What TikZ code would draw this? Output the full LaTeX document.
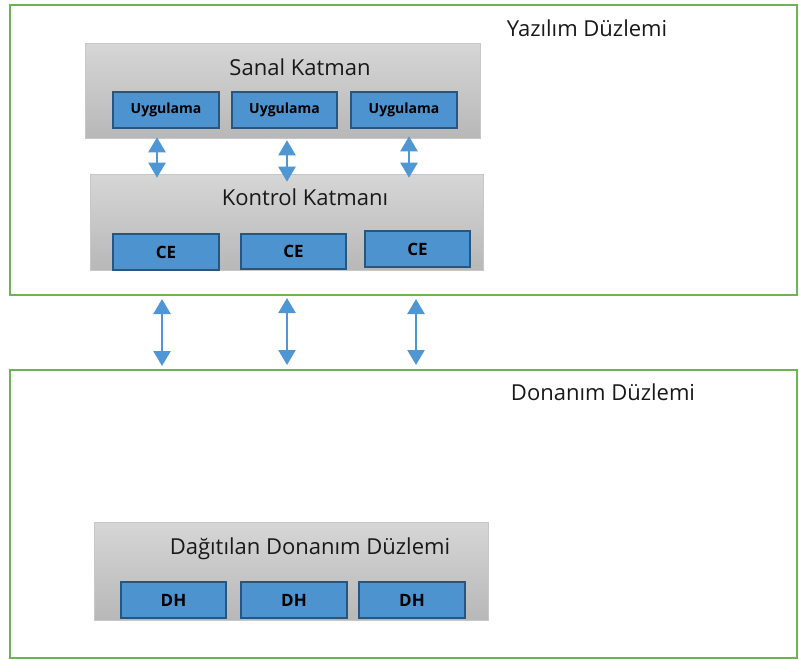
\documentclass[tikz,border=0pt]{standalone}
\usepackage{fontspec}
\setmainfont{Open Sans}
\usetikzlibrary{arrows.meta}
\definecolor{grn}{HTML}{6DB553}
\definecolor{blu}{HTML}{4D93CF}
\definecolor{bluedge}{HTML}{27567E}
\definecolor{arrc}{HTML}{4E96D4}
\tikzset{
  plane/.style={draw=grn, line width=2pt},
  layer/.style={top color=black!16, bottom color=black!28, draw=black!22, line width=0.6pt},
  unit/.style={fill=blu, draw=bluedge, line width=1.6pt, font=\bfseries\fontsize{14}{16}\selectfont, text=black},
  big/.style={font=\bfseries\fontsize{17}{19}\selectfont},
  title/.style={font=\fontsize{22}{26}\selectfont, text=black!90},
  arr/.style={draw=arrc, line width=2.4pt, {Triangle[width=17pt,length=15pt]}-{Triangle[width=17pt,length=15pt]}}
}
\begin{document}
\begin{tikzpicture}[x=1pt,y=-1pt]
\useasboundingbox (0,0) rectangle (799,659);
% planes
\node[plane, minimum width=787pt, minimum height=290pt, inner sep=0pt] (sw) at (403.5,150) {};
\node[plane, minimum width=787pt, minimum height=288pt, inner sep=0pt] (hw) at (403.5,514) {};
\node[title, anchor=base] (swt) at (587,36) {Yazılım Düzlemi};
\node[title, anchor=base] (hwt) at (603,400) {Donanım Düzlemi};
% Sanal Katman
\node[layer, minimum width=395pt, minimum height=95pt, inner sep=0pt] (sanal) at (282.5,90.5) {};
\node[title, anchor=base] (sanalt) at (300,75) {Sanal Katman};
\node[unit, minimum width=106pt, minimum height=36pt, inner sep=0pt] (u1) at (166,110) {Uygulama};
\node[unit, minimum width=105pt, minimum height=36pt, inner sep=0pt] (u2) at (284.5,110) {Uygulama};
\node[unit, minimum width=106pt, minimum height=36pt, inner sep=0pt] (u3) at (404,110) {Uygulama};
% Kontrol Katmani
\node[layer, minimum width=393pt, minimum height=96pt, inner sep=0pt] (kontrol) at (286.5,222) {};
\node[title, anchor=base] (kontrolt) at (305,205) {Kontrol Katmanı};
\node[unit, big, minimum width=106pt, minimum height=36pt, inner sep=0pt] (c1) at (166,252) {CE};
\node[unit, big, minimum width=105pt, minimum height=35pt, inner sep=0pt] (c2) at (293.5,251.5) {CE};
\node[unit, big, minimum width=105pt, minimum height=36pt, inner sep=0pt] (c3) at (417.5,249) {CE};
% Dagitilan
\node[layer, minimum width=394pt, minimum height=98pt, inner sep=0pt] (dag) at (291,571) {};
\node[title, anchor=base] (dagt) at (310,554) {Dağıtılan Donanım Düzlemi};
\node[unit, big, minimum width=105pt, minimum height=36pt, inner sep=0pt] (d1) at (173.5,600) {DH};
\node[unit, big, minimum width=106pt, minimum height=36pt, inner sep=0pt] (d2) at (294,600) {DH};
\node[unit, big, minimum width=106pt, minimum height=36pt, inner sep=0pt] (d3) at (412,600) {DH};
% arrow columns
\coordinate (a1) at (157,0);
\coordinate (a2) at (287,0);
\coordinate (a3) at (409,0);
\coordinate (b1) at (162,0);
\coordinate (b2) at (287,0);
\coordinate (b3) at (416,0);
\draw[arr] ([yshift=1pt]sanal.south -| a1) -- ([yshift=-4pt]kontrol.north -| a1);
\draw[arr] ([yshift=-2pt]sanal.south -| a2) -- ([yshift=-8pt]kontrol.north -| a2);
\draw[arr] ([yshift=2pt]sanal.south -| a3) -- ([yshift=-4pt]kontrol.north -| a3);
\draw[arr] ([yshift=-3pt]sw.south -| b1) -- ([yshift=3pt]hw.north -| b1);
\draw[arr] ([yshift=-2pt]sw.south -| b2) -- ([yshift=4pt]hw.north -| b2);
\draw[arr] ([yshift=-3pt]sw.south -| b3) -- ([yshift=4pt]hw.north -| b3);
\end{tikzpicture}
\end{document}
